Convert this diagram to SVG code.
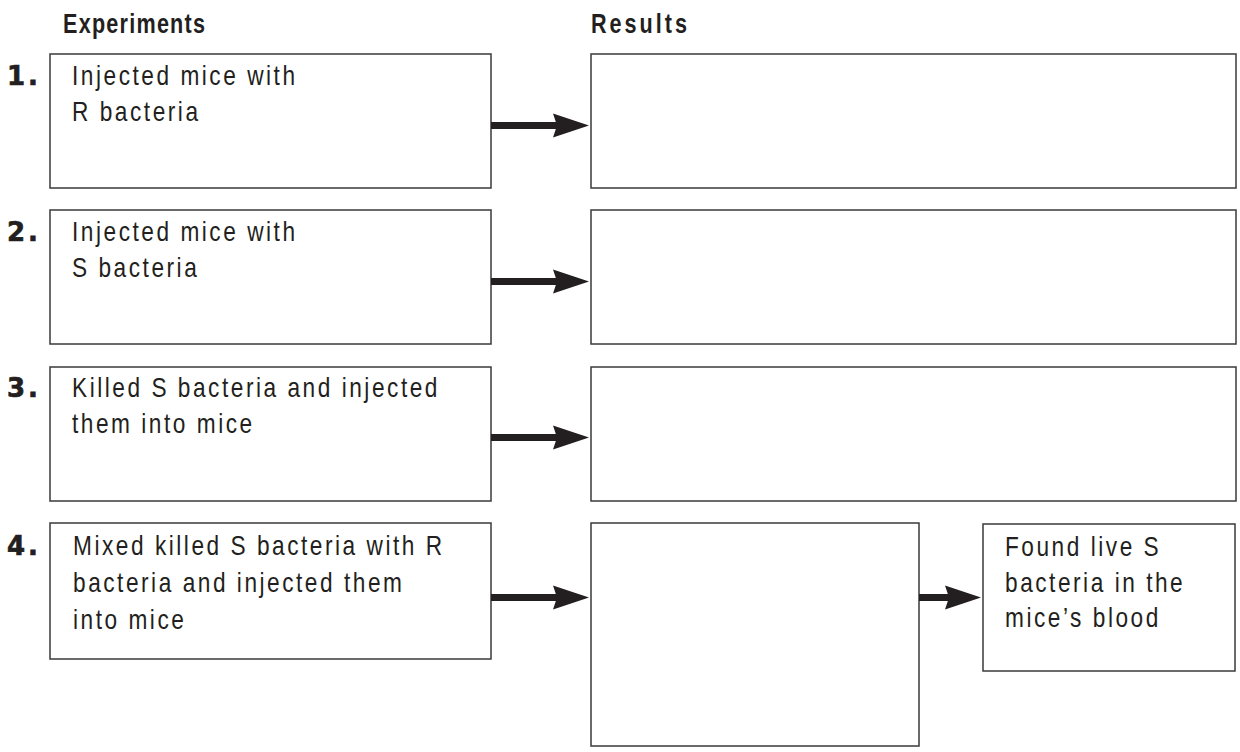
<svg xmlns="http://www.w3.org/2000/svg" width="1240" height="752" viewBox="0 0 1240 752">
<style>
.box{fill:#fff;stroke:#3a3a3a;stroke-width:1.5}
.txt{font-family:"Liberation Sans",Arial,sans-serif;font-size:27px;letter-spacing:3px;fill:#231f20}
.head{font-family:"Liberation Sans",Arial,sans-serif;font-size:27px;font-weight:bold;fill:#231f20}
.num{font-family:"DejaVu Sans",Verdana,sans-serif;font-size:26px;font-weight:bold;fill:#231f20;stroke:#231f20;stroke-width:0.7;letter-spacing:3px}
.arrow{stroke:#231f20;stroke-width:7;fill:none;marker-end:url(#ah)}
</style>
<defs>
<marker id="ah" markerUnits="userSpaceOnUse" markerWidth="36" markerHeight="26" viewBox="0 0 36 26" refX="16" refY="13" orient="auto">
<path d="M0,1 L36,13 L0,25 L4,13 z" fill="#231f20"/>
</marker>
</defs>
<rect width="1240" height="752" fill="#fff"/>
<g id="headers">
<text class="head" transform="translate(63,33) scale(0.8,1)" textLength="177.5" lengthAdjust="spacing">Experiments</text>
<text class="head" transform="translate(591,33) scale(0.8,1)" textLength="120" lengthAdjust="spacing">Results</text>
</g>
<g id="exp1">
<text class="num" x="7" y="85">1.</text>
<rect class="box" x="50" y="54" width="441" height="134"/>
<text class="txt" transform="translate(72,85) scale(0.84,1)">Injected mice with</text>
<text class="txt" transform="translate(72,121) scale(0.84,1)">R bacteria</text>
</g>
<g id="res1"><rect class="box" x="591" y="54" width="645" height="134"/></g>
<g id="exp2">
<text class="num" x="7" y="241">2.</text>
<rect class="box" x="50" y="210" width="441" height="134"/>
<text class="txt" transform="translate(72,241) scale(0.84,1)">Injected mice with</text>
<text class="txt" transform="translate(72,277) scale(0.84,1)">S bacteria</text>
</g>
<g id="res2"><rect class="box" x="591" y="210" width="645" height="134"/></g>
<g id="exp3">
<text class="num" x="7" y="397">3.</text>
<rect class="box" x="50" y="367" width="441" height="134"/>
<text class="txt" transform="translate(72,397) scale(0.84,1)">Killed S bacteria and injected</text>
<text class="txt" transform="translate(72,433) scale(0.84,1)">them into mice</text>
</g>
<g id="res3"><rect class="box" x="591" y="367" width="645" height="134"/></g>
<g id="exp4">
<text class="num" x="7" y="555">4.</text>
<rect class="box" x="50" y="523" width="441" height="136"/>
<text class="txt" transform="translate(73,555) scale(0.84,1)">Mixed killed S bacteria with R</text>
<text class="txt" transform="translate(73,592) scale(0.84,1)">bacteria and injected them</text>
<text class="txt" transform="translate(73,629) scale(0.84,1)">into mice</text>
</g>
<g id="res4"><rect class="box" x="591" y="523" width="328" height="223"/></g>
<g id="found">
<rect class="box" x="983" y="524" width="252" height="147"/>
<text class="txt" transform="translate(1005,556) scale(0.84,1)">Found live S</text>
<text class="txt" transform="translate(1005,592) scale(0.84,1)">bacteria in the</text>
<text class="txt" transform="translate(1005,627) scale(0.84,1)">mice’s blood</text>
</g>
<g id="connectors">
<line class="arrow" x1="491" y1="125.5" x2="569" y2="125.5"/>
<line class="arrow" x1="491" y1="281.5" x2="569" y2="281.5"/>
<line class="arrow" x1="491" y1="437.5" x2="569" y2="437.5"/>
<line class="arrow" x1="491" y1="597.5" x2="569" y2="597.5"/>
<line class="arrow" x1="919" y1="597.5" x2="961" y2="597.5"/>
</g>
</svg>
